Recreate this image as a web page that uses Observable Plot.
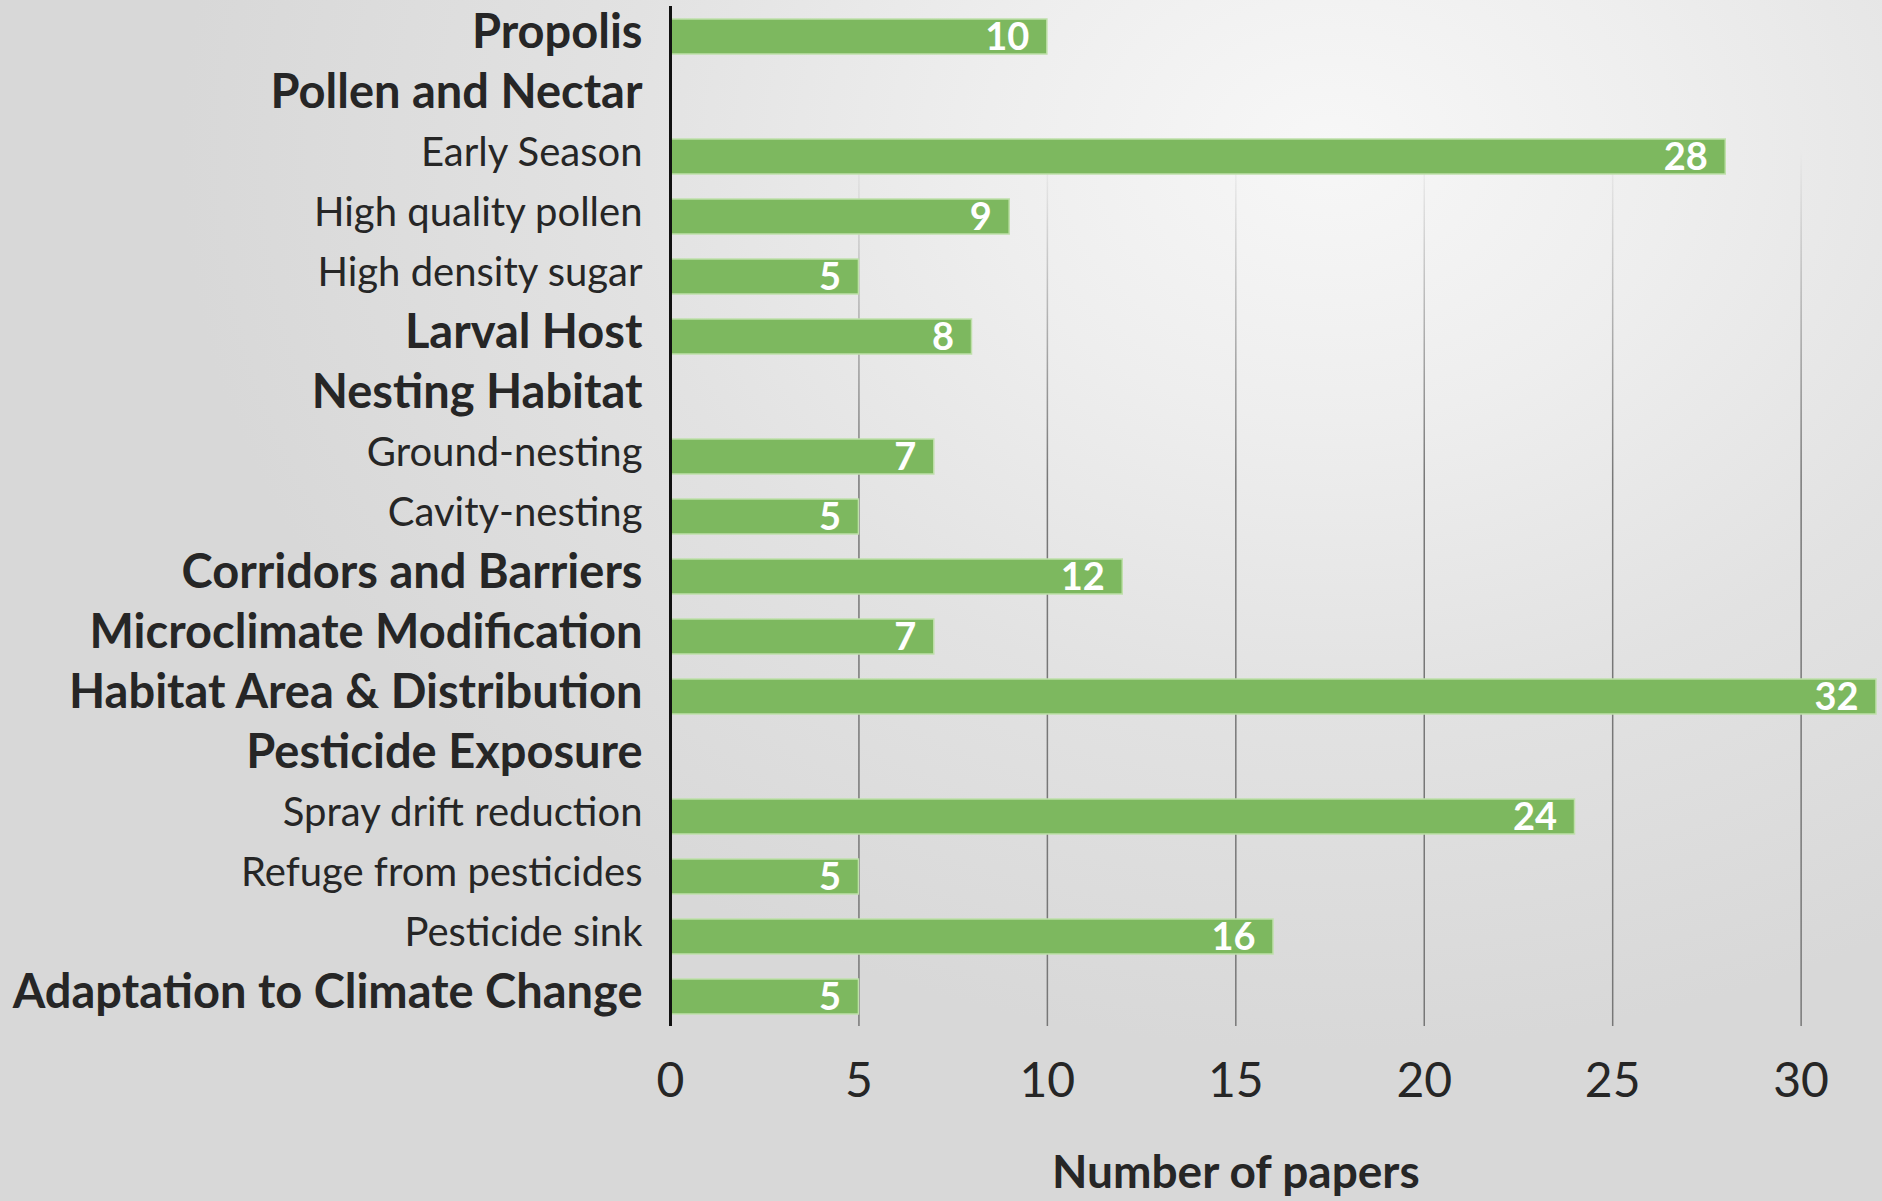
<!DOCTYPE html>
<html>
<head>
<meta charset="utf-8">
<script src="https://cdn.jsdelivr.net/npm/d3@7"></script>
<script src="https://cdn.jsdelivr.net/npm/@observablehq/plot@0.6"></script>
<style>
  html, body { margin: 0; padding: 0; width: 1882px; height: 1201px; overflow: hidden; }
  body {
    background: radial-gradient(ellipse 1150px 900px at 1330px 150px, #f7f7f7 0%, #eeeeee 30%, #e2e2e2 62%, #d8d8d8 100%);
    font-family: Lato, "Open Sans", sans-serif;
  }
  #chart svg { display: block; }
</style>
</head>
<body>
<div id="chart"></div>
<script>
const labels = [
  "Propolis", "Pollen and Nectar", "Early Season", "High quality pollen", "High density sugar",
  "Larval Host", "Nesting Habitat", "Ground-nesting", "Cavity-nesting", "Corridors and Barriers",
  "Microclimate Modification", "Habitat Area & Distribution", "Pesticide Exposure",
  "Spray drift reduction", "Refuge from pesticides", "Pesticide sink", "Adaptation to Climate Change"
];
const values = [10, null, 28, 9, 5, 8, null, 7, 5, 12, 7, 32, null, 24, 5, 16, 5];
const levels = ["main", "main", "sub", "sub", "sub", "main", "main", "sub", "sub", "main",
  "main", "main", "main", "sub", "sub", "sub", "main"];
const xTicks = [0, 5, 10, 15, 20, 25, 30];
const axisTitle = "Number of papers";

const rows = labels.map((label, i) => ({label, value: values[i], level: levels[i]}));
const bars = rows.filter(d => d.value != null);
const boldLabels = rows.filter(d => d.level === "main").map(d => d.label);
const subLabels = rows.filter(d => d.level === "sub").map(d => d.label);

const chart = Plot.plot({
  width: 1882,
  height: 1201,
  marginLeft: 670,
  marginRight: 6,
  marginTop: 6,
  marginBottom: 175,
  style: {background: "transparent", fontFamily: "Lato, 'Open Sans', sans-serif", color: "#262626"},
  x: {domain: [0, 32]},
  y: {domain: labels, paddingInner: 0.42, paddingOuter: 0.21},
  marks: [
    Plot.gridX(xTicks.slice(1), {stroke: "url(#gridfade)", strokeOpacity: 1, strokeWidth: 1.5}),
    Plot.barX(bars, {x: "value", y: "label", fill: "#7db85f", stroke: "#bfe0aa", strokeWidth: 1.5}),
    Plot.text(bars, {x: "value", y: "label", text: d => String(d.value), textAnchor: "end", dx: -18, dy: 1,
      fill: "white", fontWeight: "bold", fontSize: 38}),
    Plot.ruleX([0], {stroke: "#111", strokeWidth: 3}),
    Plot.axisY(boldLabels, {tickSize: 0, tickPadding: 28, fontSize: 47, fontWeight: "bold", fill: "#262626", dy: -4, label: null}),
    Plot.axisY(subLabels, {tickSize: 0, tickPadding: 28, fontSize: 40, fill: "#262626", dy: -4, label: null}),
    Plot.axisX(xTicks, {tickSize: 0, tickPadding: 36, fontSize: 48, fill: "#262626", label: null}),
    Plot.text([axisTitle], {x: () => 15, frameAnchor: "bottom", lineAnchor: "top", dy: 129,
      fontSize: 46, fontWeight: "bold", fill: "#262626"})
  ]
});

const defs = d3.create("svg:defs");
const g = defs.append("linearGradient").attr("id", "gridfade")
  .attr("gradientUnits", "userSpaceOnUse").attr("x1", 0).attr("y1", 150).attr("x2", 0).attr("y2", 480);
g.append("stop").attr("offset", 0).attr("stop-color", "#777").attr("stop-opacity", 0);
g.append("stop").attr("offset", 1).attr("stop-color", "#777").attr("stop-opacity", 1);
chart.insertBefore(defs.node(), chart.firstChild);

document.getElementById("chart").appendChild(chart);
</script>
</body>
</html>
